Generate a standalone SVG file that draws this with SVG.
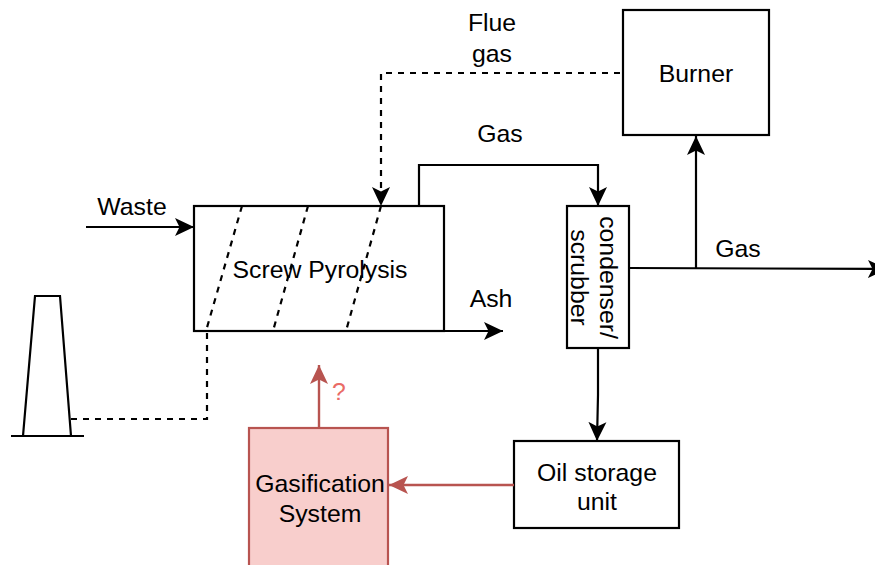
<svg xmlns="http://www.w3.org/2000/svg" width="875" height="565" viewBox="0 0 875 565">
<style>
text{font-family:"Liberation Sans",Arial,sans-serif;font-size:24.8px;fill:#000;text-anchor:middle}
.box{fill:#fff;stroke:#000;stroke-width:2.2}
.l{fill:none;stroke:#000;stroke-width:2.2}
.d{fill:none;stroke:#000;stroke-width:2.2;stroke-dasharray:6 6}
.r{fill:none;stroke:#b85450;stroke-width:2.4}
</style>
<defs>
<marker id="a" markerUnits="userSpaceOnUse" markerWidth="22" markerHeight="22" refX="19" refY="10" orient="auto"><path d="M0 1L19 10L0 19L4.500 10Z" fill="#000"/></marker>
<marker id="b" markerUnits="userSpaceOnUse" markerWidth="22" markerHeight="22" refX="19" refY="10" orient="auto"><path d="M0 1L19 10L0 19L4.500 10Z" fill="#b85450"/></marker>
</defs>
<rect width="875" height="565" fill="#fff"/>
<g id="pyrolysis"><rect class="box" x="194" y="206" width="250" height="125"/><path class="d" d="M242 206L206 331M308 206L273 331M381 206L346 331"/><text x="320" y="278">Screw Pyrolysis</text></g>
<g id="burner"><rect class="box" x="623" y="10" width="146" height="125"/><text x="696" y="82">Burner</text></g>
<g id="condenser"><rect class="box" x="567" y="206" width="62" height="142"/><text transform="translate(600 277.500) rotate(90)">condenser/</text><text transform="translate(571 277.500) rotate(90)">scrubber</text></g>
<g id="oil"><rect class="box" x="514" y="441" width="165" height="87"/><text x="597" y="481">Oil storage</text><text x="597" y="510">unit</text></g>
<g id="gasification"><rect x="249" y="428" width="139" height="150" fill="#f8cecc" stroke="#b85450" stroke-width="2.2"/><text x="320" y="492">Gasification</text><text x="320" y="522">System</text></g>
<g id="chimney"><path class="l" d="M23 436L35 296H60L71 436M11 436H84"/></g>
<g id="connectors">
<path class="l" marker-end="url(#a)" d="M86 227H194"/>
<path class="l" marker-end="url(#a)" d="M444 331H503"/>
<path class="l" marker-end="url(#a)" d="M419 206V165H598V206"/>
<path class="d" marker-end="url(#a)" d="M620 73H381V206"/>
<path class="l" marker-end="url(#a)" d="M629 268L887 269"/>
<path class="l" marker-end="url(#a)" d="M696 268V136"/>
<path class="l" marker-end="url(#a)" d="M598 348V395L597 441"/>
<path class="d" d="M71 419H207V331"/>
<path class="r" marker-end="url(#b)" d="M514 485H389"/>
<path class="r" marker-end="url(#b)" d="M319 428V365"/>
</g>
<g id="labels">
<text x="132" y="215">Waste</text><text x="491" y="307">Ash</text><text x="500" y="142">Gas</text><text x="738" y="257">Gas</text><text x="492" y="31">Flue</text><text x="492" y="62">gas</text>
<text x="339" y="400" style="fill:#ea6b66">?</text>
</g>
</svg>
